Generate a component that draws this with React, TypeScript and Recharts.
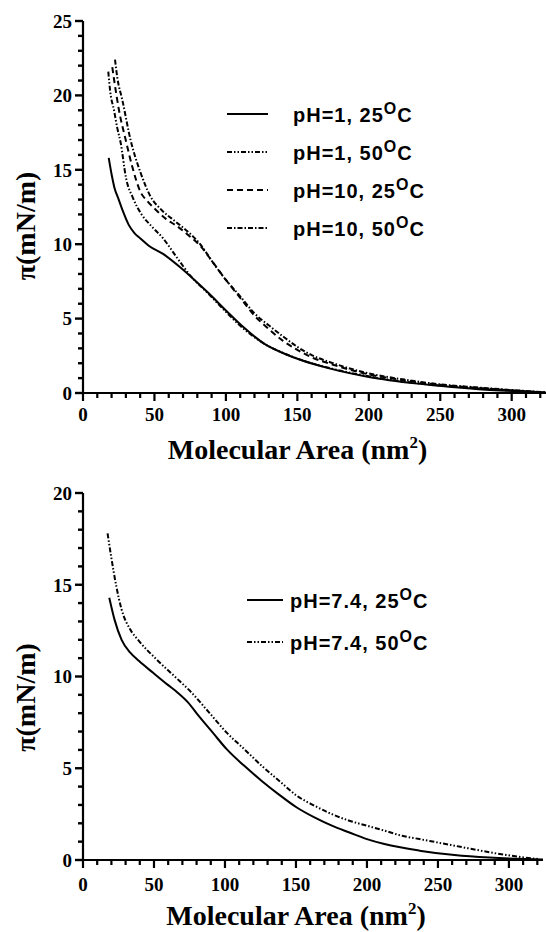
import React from 'react';
import { LineChart, Line, XAxis, YAxis, Legend } from 'recharts';

const SERIF = '"Liberation Serif", "Times New Roman", serif';
const SANS = '"Liberation Sans", Arial, sans-serif';

// ---------- tick values ----------
const xTicks = [0, 10, 20, 30, 40, 50, 60, 70, 80, 90, 100, 110, 120, 130, 140, 150, 160, 170, 180, 190, 200, 210, 220, 230, 240, 250, 260, 270, 280, 290, 300, 310, 320];
const yTicksTop = [0, 1, 2, 3, 4, 5, 6, 7, 8, 9, 10, 11, 12, 13, 14, 15, 16, 17, 18, 19, 20, 21, 22, 23, 24, 25];
const yTicksBottom = [0, 1, 2, 3, 4, 5, 6, 7, 8, 9, 10, 11, 12, 13, 14, 15, 16, 17, 18, 19, 20];

// ---------- top panel series ----------
const ph1_25_area = [18, 20, 22, 25, 28, 32, 36, 40, 46, 56, 68, 78, 88, 100, 112, 127, 141, 153, 173, 200, 234, 258, 282, 307, 324];
const ph1_25_pi = [15.8, 14.7, 13.8, 13.0, 12.2, 11.3, 10.75, 10.4, 9.9, 9.35, 8.45, 7.6, 6.7, 5.55, 4.45, 3.3, 2.64, 2.2, 1.64, 1.08, 0.63, 0.4, 0.22, 0.11, 0.02];

const ph1_50_area = [17.7, 19, 21.7, 24, 26.4, 30, 35, 41, 48, 56, 65, 75, 88, 100, 112, 127, 141, 155, 175, 200, 230, 260, 290, 310, 324];
const ph1_50_pi = [21.6, 20.3, 19.0, 17.8, 16.8, 14.5, 13.1, 12.0, 11.2, 10.4, 9.2, 7.9, 6.65, 5.45, 4.35, 3.3, 2.65, 2.15, 1.62, 1.12, 0.7, 0.42, 0.22, 0.1, 0.03];

const ph10_25_area = [20.5, 22, 25.2, 29.9, 34.5, 40.3, 45, 50, 58, 66, 75, 82, 90, 100, 110, 120, 130, 140, 150, 160, 175, 200, 225, 250, 275, 300, 324];
const ph10_25_pi = [21.9, 20.9, 19.0, 17.0, 15.2, 13.5, 12.9, 12.4, 11.7, 11.2, 10.5, 9.9, 8.9, 7.6, 6.4, 5.2, 4.3, 3.5, 2.9, 2.4, 1.9, 1.25, 0.85, 0.55, 0.35, 0.18, 0.03];

const ph10_50_area = [22.4, 24, 27.5, 33.3, 40.3, 47.3, 55, 65, 75, 82, 90, 100, 110, 120, 130, 140, 150, 160, 175, 200, 225, 250, 275, 300, 324];
const ph10_50_pi = [22.4, 21.2, 19.7, 17.0, 14.8, 13.2, 12.3, 11.5, 10.7, 10.0, 8.9, 7.6, 6.5, 5.35, 4.55, 3.8, 3.1, 2.55, 2.0, 1.32, 0.9, 0.58, 0.38, 0.2, 0.04];

// ---------- bottom panel series ----------
const ph74_25_area = [18.5, 22.2, 27.2, 33.3, 39.5, 49.4, 59.3, 66.7, 74.1, 81.5, 91.4, 101.2, 113.6, 125.9, 138.3, 150.6, 163, 175.3, 187.6, 200, 212.3, 237, 261.7, 286.4, 311, 324.5];
const ph74_25_pi = [14.29, 13.1, 12.0, 11.3, 10.84, 10.2, 9.57, 9.12, 8.58, 7.85, 6.94, 6.04, 5.13, 4.31, 3.55, 2.86, 2.32, 1.87, 1.5, 1.14, 0.87, 0.51, 0.27, 0.13, 0.05, 0.02];

const ph74_50_area = [17.3, 19.8, 23.5, 27.2, 33.3, 39.5, 51.8, 64.2, 76.5, 88.9, 101.2, 113.6, 125.9, 138.3, 150.6, 163, 175.3, 187.6, 200, 212.3, 224.7, 237, 249.4, 261.7, 274, 286.4, 298.7, 311, 321];
const ph74_50_pi = [17.8, 16.55, 14.9, 13.65, 12.56, 11.93, 10.93, 10.03, 9.12, 8.03, 6.94, 6.04, 5.13, 4.31, 3.5, 2.96, 2.5, 2.14, 1.87, 1.6, 1.32, 1.14, 0.96, 0.78, 0.6, 0.42, 0.27, 0.13, 0.05];

const zip = (a: number[], v: number[]) => a.map((x, i) => ({ a: x, v: v[i] }));

const DASH_DOT_DOT = '5 2 1.5 2 1.5 2';
const DASHED = '6 4';
const DASH_DOT = '5 2 1.5 2';

const topSeries = [
  { key: 'ph1_25', label: 'pH=1, 25', data: zip(ph1_25_area, ph1_25_pi), dash: undefined as string | undefined },
  { key: 'ph1_50', label: 'pH=1, 50', data: zip(ph1_50_area, ph1_50_pi), dash: DASH_DOT_DOT },
  { key: 'ph10_25', label: 'pH=10, 25', data: zip(ph10_25_area, ph10_25_pi), dash: DASHED },
  { key: 'ph10_50', label: 'pH=10, 50', data: zip(ph10_50_area, ph10_50_pi), dash: DASH_DOT },
];

const bottomSeries = [
  { key: 'ph74_25', label: 'pH=7.4, 25', data: zip(ph74_25_area, ph74_25_pi), dash: undefined as string | undefined },
  { key: 'ph74_50', label: 'pH=7.4, 50', data: zip(ph74_50_area, ph74_50_pi), dash: DASH_DOT_DOT },
];

const axisStroke = { stroke: '#000', strokeWidth: 2.2 };

const makeXTitle = (dx: number, dy: number) => (props: any) => {
  const vb = props.viewBox || {};
  return (
    <text x={vb.x + vb.width / 2 + dx} y={vb.y + dy} textAnchor="middle" fontFamily={SERIF} fontWeight="bold" fontSize={28} fill="#000">
      Molecular Area (nm
      <tspan fontSize={17} dy={-11}>2</tspan>
      <tspan dy={11}>)</tspan>
    </text>
  );
};

const makeYTitle = (dy: number) => (props: any) => {
  const vb = props.viewBox || {};
  const cx = vb.x + 25;
  const cy = vb.y + vb.height / 2 + dy;
  return (
    <text x={cx} y={cy} transform={`rotate(-90 ${cx} ${cy})`} textAnchor="middle" dominantBaseline="central" fontFamily={SERIF} fontWeight="bold" fontSize={28} fill="#000">
      π(mN/m)
    </text>
  );
};

// tick renderers: filled rects for tick marks, labels on major ticks only
const makeXTick = (labelOffset: number) => (props: any) => {
  const x = Number(props.x);
  const y = Number(props.y);
  const v = props.payload.value;
  const major = v % 50 === 0;
  const len = major ? 8 : 5;
  return (
    <g>
      <rect x={x - 1.1} y={y} width={2.2} height={len} fill="#000" />
      {major && (
        <text x={x} y={y + labelOffset} textAnchor="middle" fontFamily={SERIF} fontWeight="bold" fontSize={19} fill="#000">
          {v}
        </text>
      )}
    </g>
  );
};

const YTick = (props: any) => {
  const x = Number(props.x);
  const y = Number(props.y);
  const v = props.payload.value;
  const major = v % 5 === 0;
  const len = major ? 8 : 5;
  return (
    <g>
      <rect x={x - len} y={y - 1.2} width={len} height={2.4} fill="#000" />
      {major && (
        <text x={x - 11} y={y} dy="0.36em" textAnchor="end" fontFamily={SERIF} fontWeight="bold" fontSize={19} fill="#000">
          {v}
        </text>
      )}
    </g>
  );
};

type Series = { key: string; label: string; dash: string | undefined };

const LegendBody = ({ series, w, h, lx1, lx2, tx, rows }: any) => (
  <svg width={w} height={h} style={{ position: 'absolute', left: 0, top: 0, overflow: 'visible', pointerEvents: 'none' }}>
    {series.map((s: Series, i: number) => (
      <g key={s.key}>
        <line x1={lx1} x2={lx2} y1={rows[i]} y2={rows[i]} stroke="#000" strokeWidth={2} strokeDasharray={s.dash} />
        <text x={tx} y={rows[i] + 8} fontFamily={SANS} fontWeight="bold" fontSize={20} letterSpacing={1} fill="#000">
          {s.label}
          <tspan fontSize={16} dy={-8}>O</tspan>
          <tspan dy={8}>C</tspan>
        </text>
      </g>
    ))}
  </svg>
);

function Panel({ series, height, marginTop, marginRight, yMax, yTicks, axisHeight, labelOffset, titleDy, yTitleDy, legend }: any) {
  return (
    <LineChart width={546} height={height} margin={{ top: marginTop, right: marginRight, bottom: 0, left: 0 }}>
      <XAxis
        type="number"
        dataKey="a"
        domain={[0, 324]}
        allowDataOverflow
        ticks={xTicks}
        interval={0}
        tickSize={0}
        tickMargin={0}
        tickLine={false}
        axisLine={axisStroke}
        tick={makeXTick(labelOffset)}
        height={axisHeight}
        label={{ content: makeXTitle(-17, titleDy) } as any}
      />
      <YAxis
        type="number"
        dataKey="v"
        domain={[0, yMax]}
        allowDataOverflow
        ticks={yTicks}
        interval={0}
        tickSize={0}
        tickMargin={0}
        tickLine={false}
        axisLine={axisStroke}
        tick={YTick}
        width={83}
        label={{ content: makeYTitle(yTitleDy) } as any}
      />
      {series.map((s: any) => (
        <Line
          key={s.key}
          data={s.data}
          dataKey="v"
          name={s.label}
          type="monotone"
          stroke="#000"
          strokeWidth={2}
          strokeDasharray={s.dash}
          dot={false}
          activeDot={false}
          isAnimationActive={false}
        />
      ))}
      <Legend
        layout="vertical"
        align="center"
        verticalAlign="middle"
        wrapperStyle={{ position: 'absolute', left: 0, top: 0, width: 546, height, pointerEvents: 'none' }}
        content={legend}
      />
    </LineChart>
  );
}

export default function App() {
  return (
    <div style={{ position: 'absolute', left: 0, top: 0, width: 546, height: 932, background: '#fff' }}>
      <Panel
        series={topSeries}
        height={470}
        marginTop={21}
        marginRight={0}
        yMax={25}
        yTicks={yTicksTop}
        axisHeight={77}
        labelOffset={28}
        titleDy={66}
        yTitleDy={19}
        legend={() => <LegendBody series={topSeries} w={546} h={470} lx1={227} lx2={268} tx={293} rows={[114, 152, 190, 228]} />}
      />
      <Panel
        series={bottomSeries}
        height={462}
        marginTop={23}
        marginRight={3}
        yMax={20}
        yTicks={yTicksBottom}
        axisHeight={72}
        labelOffset={31}
        titleDy={65}
        yTitleDy={21}
        legend={() => <LegendBody series={bottomSeries} w={546} h={462} lx1={247} lx2={283} tx={290} rows={[130, 172]} />}
      />
    </div>
  );
}
